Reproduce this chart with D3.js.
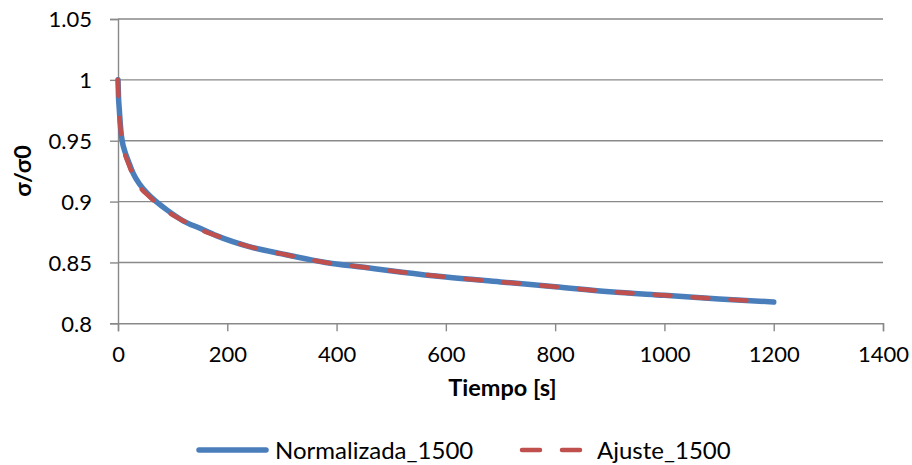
<!DOCTYPE html>
<html><head><meta charset="utf-8">
<script src="https://cdn.jsdelivr.net/npm/d3@7/dist/d3.min.js"></script>
<style>body{margin:0;background:#fff}svg{display:block}text{font-family:Lato,"Noto Sans",sans-serif;fill:#000}</style>
</head><body><svg id="c" width="912" height="465"></svg>
<script>
const timeMeasured = [0,1,2,4,6,8,12,20,28,40,55,70,90,120,150,180,240,300,380,450,520,600,700,800,900,1000,1100,1200];
const valueMeasured = [1.000,0.985,0.978,0.965,0.955,0.949,0.942,0.932,0.923,0.914,0.906,0.900,0.893,0.884,0.878,0.872,0.863,0.857,0.850,0.846,0.842,0.838,0.834,0.830,0.826,0.823,0.820,0.8175];
const timeFit = [0,1,2,4,6,8,12,20,28,40,55,70,90,120,150,180,240,300,380,450,520,600,700,800,900,1000,1100,1180];
const valueFit = [1.000,0.984,0.976,0.963,0.953,0.947,0.940,0.930,0.921,0.912,0.905,0.899,0.892,0.884,0.877,0.872,0.863,0.857,0.850,0.846,0.842,0.838,0.834,0.830,0.826,0.823,0.820,0.818];
const xTicks = [0,200,400,600,800,1000,1200,1400];
const yTicks = [0.8,0.85,0.9,0.95,1,1.05];
const seriesNames = ["Normalizada_1500","Ajuste_1500"];

const svg = d3.select("#c");
const x = d3.scaleLinear().domain([0,1400]).range([118,883]);
const y = d3.scaleLinear().domain([0.8,1.05]).range([323.3,19]);
const grid = "#898989";

// gridlines
svg.append("g").selectAll("line").data(yTicks.slice(1)).join("line")
  .attr("x1",x(0)).attr("x2",x(1400)).attr("y1",d=>y(d)).attr("y2",d=>y(d))
  .attr("stroke",grid).attr("stroke-width",1.4);

// axes
const yAxis = d3.axisLeft(y).tickValues(yTicks).tickSize(8).tickPadding(18)
  .tickFormat(d=>String(+d.toFixed(2)));
const gy = svg.append("g").attr("transform",`translate(${x(0)},0)`).call(yAxis);
const xAxis = d3.axisBottom(x).tickValues(xTicks).tickSize(8).tickPadding(15).tickFormat(d3.format("d"));
const gx = svg.append("g").attr("transform",`translate(0,${y(0.8)})`).call(xAxis);
[gx,gy].forEach(g=>{
  g.select(".domain").attr("stroke",grid).attr("stroke-width",1.4);
  g.selectAll(".tick line").attr("stroke",grid).attr("stroke-width",1.4);
  g.selectAll(".tick text").attr("font-size",22).attr("font-family","Lato");
});
gy.selectAll(".tick text").attr("dy","0.36em");

// lines
const line = d3.line().x(d=>x(d[0])).y(d=>y(d[1])).curve(d3.curveMonotoneX);
const measured = timeMeasured.map((t,i)=>[t,valueMeasured[i]]);
const fit = timeFit.map((t,i)=>[t,valueFit[i]]);
svg.append("path").attr("d",line(measured)).attr("fill","none")
  .attr("stroke","#4a7ebb").attr("stroke-width",5.5).attr("stroke-linecap","round").attr("stroke-linejoin","round");
svg.append("path").attr("d",line(fit)).attr("fill","none")
  .attr("stroke","#c0504d").attr("stroke-width",4.5).attr("stroke-linecap","round")
  .attr("stroke-dasharray","16,22");

// axis titles
svg.append("text").attr("x",(x(0)+x(1400))/2+2).attr("y",396).attr("text-anchor","middle")
  .attr("font-size",23.5).attr("font-weight","bold").text("Tiempo [s]");
svg.append("text").attr("transform","translate(31,171) rotate(-90)").attr("text-anchor","middle")
  .attr("font-size",23.5).attr("font-weight","bold").text("σ/σ0");

// legend
const lg = svg.append("g");
lg.append("line").attr("x1",199).attr("x2",266).attr("y1",450).attr("y2",450)
  .attr("stroke","#4a7ebb").attr("stroke-width",5.5).attr("stroke-linecap","round");
lg.append("text").attr("x",275).attr("y",459).attr("font-size",24).text(seriesNames[0]);
lg.append("line").attr("x1",522).attr("x2",581).attr("y1",450).attr("y2",450)
  .attr("stroke","#c0504d").attr("stroke-width",4.5).attr("stroke-linecap","round")
  .attr("stroke-dasharray","18,22");
lg.append("text").attr("x",597).attr("y",459).attr("font-size",24).text(seriesNames[1]);
</script></body></html>
